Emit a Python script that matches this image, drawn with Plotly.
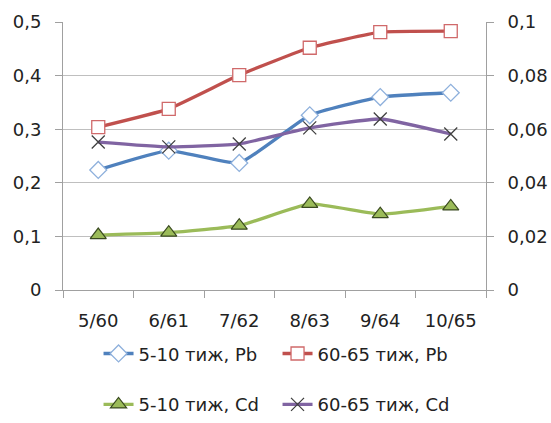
import plotly.graph_objects as go

categories = ["5/60", "6/61", "7/62", "8/63", "9/64", "10/65"]
pb_5_10 = [0.224, 0.260, 0.237, 0.326, 0.360, 0.368]
pb_60_65 = [0.304, 0.338, 0.401, 0.452, 0.481, 0.483]
cd_5_10 = [0.0205, 0.0214, 0.0240, 0.0321, 0.0283, 0.0312]
cd_60_65 = [0.0552, 0.0534, 0.0545, 0.0605, 0.0638, 0.0582]
left_ticks = [0, 0.1, 0.2, 0.3, 0.4, 0.5]
right_ticks = [0, 0.02, 0.04, 0.06, 0.08, 0.1]

FONT = "DejaVu Sans"
fig = go.Figure()
fig.add_trace(go.Scatter(x=categories, y=pb_5_10, name="5-10 тиж, Pb", mode="lines+markers",
    line=dict(color="#4F81BD", width=3.3, shape="spline", smoothing=0.4),
    marker=dict(symbol="diamond", size=13, color="white", line=dict(color="#8EB0DC", width=1.3)),
    legend="legend"))
fig.add_trace(go.Scatter(x=categories, y=pb_60_65, name="60-65 тиж, Pb", mode="lines+markers",
    line=dict(color="#C0504D", width=3.3, shape="spline", smoothing=0.4),
    marker=dict(symbol="square", size=13, color="white", line=dict(color="#D0696A", width=1.3)),
    legend="legend"))
fig.add_trace(go.Scatter(x=categories, y=cd_5_10, name="5-10 тиж, Cd", mode="lines+markers",
    line=dict(color="#9BBB59", width=3.3, shape="spline", smoothing=0.4),
    marker=dict(symbol="triangle-up", size=14, color="#9BBB59", line=dict(color="#3A4A20", width=1.2)),
    yaxis="y2", legend="legend2"))
fig.add_trace(go.Scatter(x=categories, y=cd_60_65, name="60-65 тиж, Cd", mode="lines+markers",
    line=dict(color="#8064A2", width=3.3, shape="spline", smoothing=0.4),
    marker=dict(symbol="x-thin", size=13, color="#404040", line=dict(color="#404040", width=1.3)),
    yaxis="y2", legend="legend2"))

axis_font = dict(family=FONT, size=18, color="#222")
fig.update_layout(
    width=551, height=423, separators=", ",
    margin=dict(l=63, r=65, t=22, b=133, autoexpand=False),
    plot_bgcolor="white", paper_bgcolor="white",
    font=dict(family=FONT, size=18, color="#222"),
    xaxis=dict(type="category", showgrid=False, showline=True, linecolor="#A0A0A0", linewidth=1,
               ticks="outside", ticklen=7, tickcolor="#A0A0A0", tickson="boundaries",
               tickfont=axis_font, ticklabelstandoff=14, range=[-0.5, 5.5]),
    yaxis=dict(range=[0, 0.5], tickvals=left_ticks, showgrid=True, gridcolor="#BFBFBF",
               showline=True, linecolor="#A0A0A0", ticks="outside", ticklen=7, tickcolor="#A0A0A0",
               tickfont=axis_font, zeroline=False, ticklabelstandoff=10),
    yaxis2=dict(range=[0, 0.1], tickvals=right_ticks, overlaying="y", side="right", showgrid=False,
                showline=True, linecolor="#A0A0A0", ticks="outside", ticklen=7, tickcolor="#A0A0A0",
                tickfont=axis_font, zeroline=False, ticklabelstandoff=10),
    legend=dict(orientation="h", x=0.084, y=-0.238, xanchor="left", yanchor="middle",
                font=dict(family=FONT, size=18), entrywidth=134, traceorder="normal"),
    legend2=dict(orientation="h", x=0.084, y=-0.428, xanchor="left", yanchor="middle",
                 font=dict(family=FONT, size=18), entrywidth=134, traceorder="normal"),
    showlegend=True,
)
fig.write_html("out.html", config={"displayModeBar": False},
               post_script="document.body.style.margin='0';")
